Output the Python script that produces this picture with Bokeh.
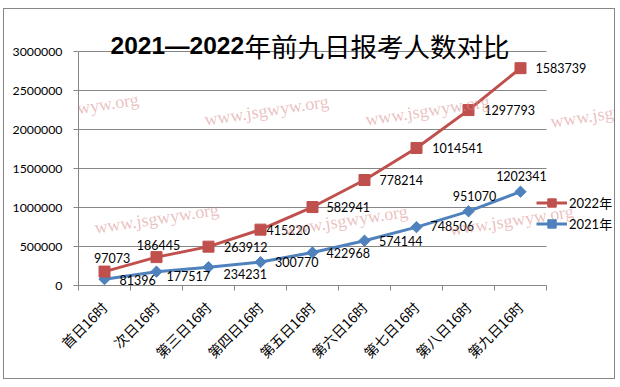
import math
import numpy as np
from bokeh.plotting import figure
from bokeh.models import (ColumnDataSource, Range1d, FixedTicker, LabelSet, Label,
                          Legend, LegendItem, BoxAnnotation, BasicTickFormatter)
from bokeh.core.properties import value
from bokeh.embed import file_html
from bokeh.resources import INLINE

# ---------------- data ----------------
categories = ["首日16时", "次日16时", "第三日16时", "第四日16时", "第五日16时",
              "第六日16时", "第七日16时", "第八日16时", "第九日16时"]
y2021 = [81396, 177517, 234231, 300770, 422968, 574144, 748506, 951070, 1202341]
y2022 = [97073, 186445, 263912, 415220, 582941, 778214, 1014541, 1297793, 1583739]
y_ticks = [0, 500000, 1000000, 1500000, 2000000, 2500000, 3000000]
series_names = ["2022年", "2021年"]
title_num = "2021—2022"
title_cjk = "年前九日报考人数对比"
watermark = "www.jsgwyw.org"

# ---------------- label placement (pixels, up = positive) ----------------
lbl22_dx = [7.6, 2, 15.6, 6, 14, 15, 15.7, 15.7, 15]
lbl22_dy = [14, 12, 0, 0, 0, 0, 0, 0, 0]
lbl22_align = ["center", "center"] + ["left"] * 7
lbl21_dx = [15, 10, 15, 14.6, 14, 14.6, 14, 6, 1]
lbl21_dy = [-1, -4, -7, 0, 0, 0, 1, 15, 16]
lbl21_align = ["left"] * 7 + ["center", "center"]

RED = "#C0504D"
BLUE = "#4F81BD"
GRID = "#868686"
NUM_FONT = "Lato"
CJK_FONT = "Noto Sans CJK SC"

# page geometry (page pixels)
BOX_L, BOX_T = 3, 8            # outer chart border position on the page
W, H = 612, 371                # canvas size
CX, CY = BOX_L + 1, BOX_T + 1  # canvas origin on the page (inside 1px border)
AX_L, AX_R, AX_T, AX_B = 78, 546, 51, 285   # category axis span / value axis span
n = len(categories)
ymax = y_ticks[-1]
ppx = (AX_R - AX_L) / n                 # pixels per category
ppy = (AX_B - AX_T) / ymax              # pixels per unit value

x_end = (CX + W - AX_L) / ppx
y_end = (AX_B - CY) / ppy


def dx(rx):  # page pixel x -> data x
    return (rx - AX_L) / ppx


def dy(ry):  # page pixel y -> data y
    return (AX_B - ry) / ppy


xs = [i + 0.5 for i in range(n)]
stack22 = list(np.array(y2021) + np.array(y2022))

p = figure(width=W, height=H, output_backend="svg", toolbar_location=None,
           x_range=Range1d(0, x_end), y_range=Range1d(0, y_end),
           min_border_left=AX_L - CX, min_border_right=0,
           min_border_top=0, min_border_bottom=CY + H - AX_B)
p.styles = {"border": "1px solid #868686", "margin-left": f"{BOX_L}px",
            "margin-top": f"{BOX_T}px"}
p.outline_line_color = None
p.background_fill_color = "white"
p.border_fill_color = "white"

# axes
p.xaxis.ticker = FixedTicker(ticks=xs, minor_ticks=list(range(n + 1)))
p.xaxis.bounds = (0, n)
p.xaxis.major_label_overrides = {x: c for x, c in zip(xs, categories)}
p.xaxis.major_label_orientation = math.pi / 4
p.xaxis.major_label_text_font = CJK_FONT
p.xaxis.major_label_text_font_size = "14px"
p.xaxis.major_label_text_color = "black"
p.xaxis.major_tick_out = 0
p.xaxis.major_tick_in = 0
p.xaxis.minor_tick_out = 5
p.xaxis.minor_tick_in = 0
p.xaxis.minor_tick_line_color = GRID
p.xaxis.axis_line_color = GRID
p.xaxis.major_label_standoff = 14

p.yaxis.ticker = FixedTicker(ticks=y_ticks)
p.yaxis.bounds = (0, ymax)
p.yaxis.formatter = BasicTickFormatter(use_scientific=False)
p.yaxis.major_label_text_font = NUM_FONT
p.yaxis.major_label_text_font_size = "12.3px"
p.yaxis.major_label_text_color = "black"
p.yaxis.major_tick_out = 5
p.yaxis.major_tick_in = 0
p.yaxis.minor_tick_line_color = None
p.yaxis.major_tick_line_color = GRID
p.yaxis.axis_line_color = GRID
p.yaxis.major_label_standoff = 11

p.xgrid.visible = False
p.ygrid.ticker = FixedTicker(ticks=y_ticks)
p.ygrid.grid_line_color = GRID
yg = p.ygrid[0]
if "cross_bounds" in yg.properties():
    yg.cross_bounds = (0, n)
else:
    # keep the value gridlines within the category span
    p.add_layout(BoxAnnotation(left=n, fill_color="white", fill_alpha=1,
                               line_color=None, level="underlay"))

# series
r21l = p.line(xs, y2021, line_color=BLUE, line_width=3)
r21m = p.scatter(xs, y2021, marker="square", angle=math.pi / 4, size=8,
                 fill_color=BLUE, line_color=BLUE)
r22l = p.line(xs, stack22, line_color=RED, line_width=3)
r22m = p.scatter(xs, stack22, marker="square", size=11,
                 fill_color=RED, line_color=RED)

src21 = ColumnDataSource(dict(x=xs, y=y2021, t=[str(v) for v in y2021],
                              dx=lbl21_dx, dy=lbl21_dy, al=lbl21_align))
src22 = ColumnDataSource(dict(x=xs, y=stack22, t=[str(v) for v in y2022],
                              dx=lbl22_dx, dy=lbl22_dy, al=lbl22_align))
for src in (src22, src21):
    p.add_layout(LabelSet(x="x", y="y", text="t", source=src, x_offset="dx",
                          y_offset="dy", text_align="al", text_baseline="middle",
                          text_font=value(NUM_FONT), text_font_size="12.5px",
                          text_color="black"))

legend = Legend(items=[LegendItem(label=series_names[0], renderers=[r22l, r22m]),
                       LegendItem(label=series_names[1], renderers=[r21l, r21m])],
                location=(536 - AX_L, AX_B - 233.8), padding=0, margin=0, spacing=0,
                glyph_width=31, glyph_height=21, label_height=21, label_standoff=2,
                border_line_color=None, background_fill_alpha=0,
                label_text_font=NUM_FONT + ", " + CJK_FONT,
                label_text_font_size="13px", label_text_color="black")
p.add_layout(legend)

# title
p.add_layout(Label(x=dx(110), y=dy(44.5), text=title_num, text_font="Liberation Sans",
                   text_font_style="bold", text_font_size="24.5px", text_color="black",
                   text_align="left", text_baseline="alphabetic"))
p.add_layout(Label(x=dx(244), y=dy(45), text=title_cjk, text_font=CJK_FONT,
                   text_font_size="26.5px", text_color="black",
                   text_align="left", text_baseline="alphabetic"))

# watermarks
wm_pos = [(76, 108), (266, 110), (427, 110), (612, 112),
          (156, 218), (345, 220), (511, 220),
          (76, 352), (255, 352), (423, 355), (612, 357)]
for (wx, wy) in wm_pos:
    p.add_layout(Label(x=dx(wx), y=dy(wy), text=watermark, angle=0.15,
                       text_align="center", text_baseline="middle",
                       text_font="Liberation Serif", text_font_size="18px",
                       text_color="#D98C8C", text_alpha=0.55, level="overlay"))

open("out.html", "w").write(file_html(p, INLINE))
